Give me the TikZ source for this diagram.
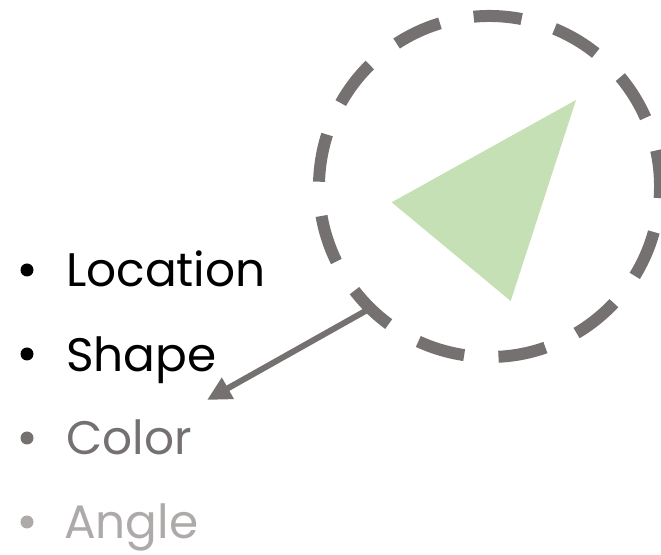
\documentclass[tikz,border=0pt]{standalone}
\usepackage{fontspec}
\setmainfont{Poppins}
\usetikzlibrary{arrows.meta,calc}
\definecolor{dgray}{HTML}{767171}
\definecolor{lgray}{HTML}{AEAAAA}
\definecolor{lgreen}{HTML}{C5E0B4}
\tikzset{
  item/.style={anchor=base west, inner sep=0pt, font=\fontsize{47}{56}\selectfont},
  dot/.style={circle, fill=#1, draw=none, minimum size=13pt, inner sep=0pt},
  ring/.style={draw=dgray, line width=12pt, dash pattern=on 48pt off 34.4pt},
  pointer/.style={draw=dgray, line width=6pt, -{Triangle[length=24pt,width=23pt]}}
}
\begin{document}
\begin{tikzpicture}[x=1pt,y=1pt]
\useasboundingbox (0,0) rectangle (661,554);
\coordinate (c) at (489.5,367.5);
% triangle
\fill[lgreen] (576,454) coordinate (t1) -- (391.7,351.7) coordinate (t2) -- (510.7,253) coordinate (t3) -- cycle;
% dashed ring
\draw[ring] (c) ++(79.2:170.5) arc[start angle=79.2, end angle=439.2, radius=170.5];
\coordinate (s) at ($(c)+(225.6:170.5)$);
% list
\node[dot=black] (b1) at (27,284) {};
\node[item, text=black] (l1) at (66,267) {Location};
\node[dot=black] (b2) at (27,200) {};
\node[item, text=black] (l2) at (66,182) {Shape};
\node[dot=dgray] (b3) at (27,116) {};
\node[item, text=dgray] (l3) at (66,99) {Color};
\node[dot=lgray] (b4) at (27,32) {};
\node[item, text=lgray] (l4) at (64,16) {Angle};
\coordinate (tip) at (207,154);
\draw[pointer] (s) -- (tip);
\end{tikzpicture}
\end{document}
